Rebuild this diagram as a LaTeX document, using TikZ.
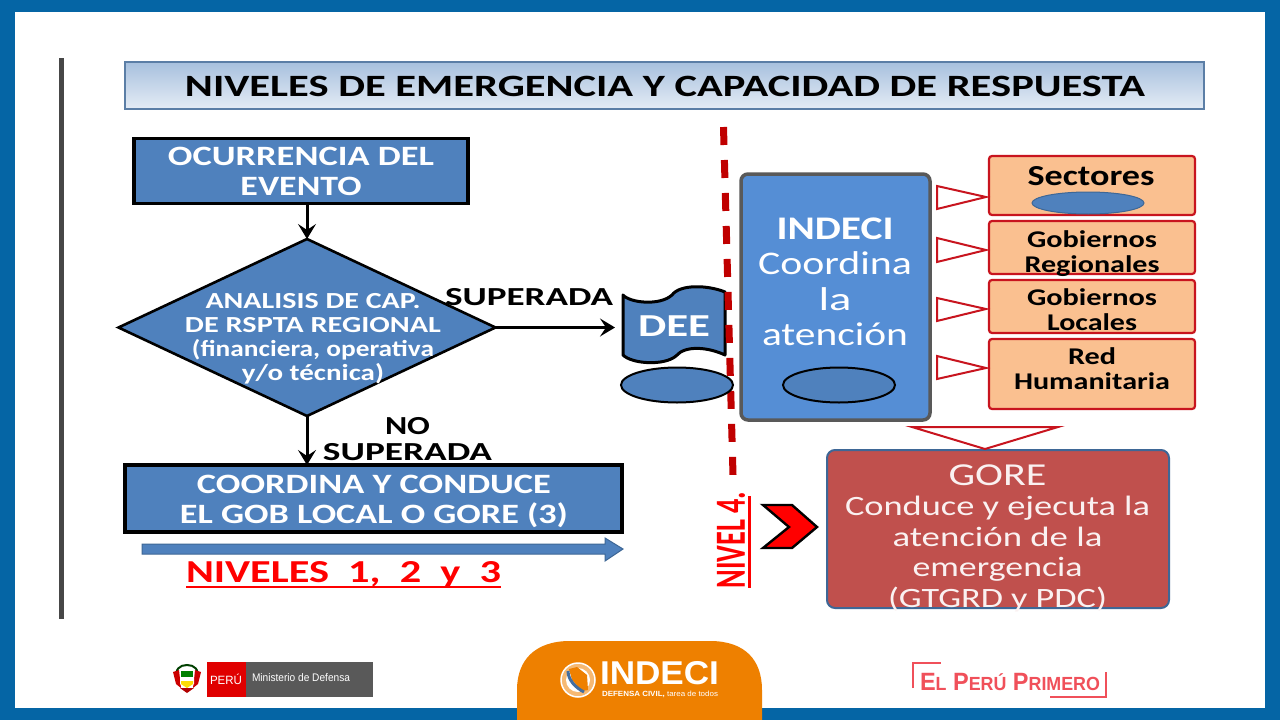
\documentclass[tikz,border=0pt]{standalone}
\usepackage{graphicx}
\usepackage{fontspec}
\setmainfont{Carlito}
\newfontfamily\lib{Liberation Sans}
\usetikzlibrary{shapes.geometric,arrows.meta}
\newcommand\fw[2]{\resizebox{#1pt}{\height}{#2}}
\definecolor{frameblue}{HTML}{0565A5}
\definecolor{boxblue}{HTML}{4F81BD}
\definecolor{indblue}{HTML}{558ED5}
\definecolor{peach}{HTML}{FAC090}
\definecolor{dred}{HTML}{C00000}
\definecolor{tred}{HTML}{C8141E}
\definecolor{brick}{HTML}{C0504D}
\definecolor{orangetab}{HTML}{EE8000}
\definecolor{logored}{HTML}{F0505A}
\definecolor{edgeblue}{HTML}{3E6796}
\tikzset{
 x=1pt,y=-1pt,
 bluebox/.style={draw=black,line width=3.5pt,fill=boxblue,anchor=north west,inner sep=0pt,outer sep=0pt},
 peachbox/.style={draw=tred,line width=2.2pt,fill=peach,rounded corners=3pt,inner sep=0pt,outer sep=0pt,anchor=north west},
 blueell/.style={ellipse,draw=black,line width=2pt,fill=boxblue,inner sep=0pt,outer sep=0pt},
 redtri/.style={draw=tred,line width=2pt,fill=white,line join=miter},
 flow/.style={draw=black,line width=3pt,-{Stealth[length=15pt,width=18pt,inset=6pt]}},
 wt/.style={text=white,font=\bfseries\fontsize{28}{30}\selectfont,align=center},
 peachtxt/.style={font=\bfseries\fontsize{24}{25}\selectfont,align=center,text=black},
}
\begin{document}
\begin{tikzpicture}
\useasboundingbox (0,0) rectangle (1280,720);
% frame
\fill[white] (0,0) rectangle (1280,720);
\fill[frameblue] (0,0) rectangle (1280,12);
\fill[frameblue] (0,0) rectangle (15,720);
\fill[frameblue] (1265,0) rectangle (1280,720);
\fill[frameblue] (0,708) rectangle (1280,720);
\fill[black!72] (59,58) rectangle (64,619);
% title
\node[draw=edgeblue!85,line width=2pt,top color=boxblue!50,bottom color=boxblue!15,anchor=north west,minimum width=1079pt,minimum height=47pt,inner sep=0pt,outer sep=0pt] (title) at (125,62) {};
\node[font=\bfseries\fontsize{31}{33}\selectfont] (titletxt) at (665,86) {\fw{960}{NIVELES DE EMERGENCIA Y CAPACIDAD DE RESPUESTA}};
% left flow
\node[bluebox,minimum width=334pt,minimum height=65pt] (ocu) at (134,138.5) {};
\node[wt] (ocutxt) at (301,171) {\fw{266}{OCURRENCIA DEL}\\\fw{121}{EVENTO}};
\node[diamond,aspect=2.13,draw=black,line width=2.6pt,fill=boxblue,minimum width=377pt,minimum height=177pt,inner sep=0pt,outer sep=0pt] (ana) at (307,327.5) {};
\node[align=center,text=white,font=\bfseries\fontsize{23}{24}\selectfont] (anatxt) at (313,339) {\fw{215}{ANALISIS DE CAP.}\\\fw{256}{DE RSPTA REGIONAL}\\\fw{242}{(financiera, operativa}\\\fw{142}{y/o técnica)}};
\node[bluebox,minimum width=497pt,minimum height=67pt] (coord) at (125,465) {};
\node[wt] (cotxt) at (374,501) {\fw{354}{COORDINA Y CONDUCE}\\\fw{388}{EL GOB LOCAL O GORE (3)}};
\draw[flow] (ocu.south -| ana.north) -- (ana.north);
\draw[flow] (ana.south) -- (ana.south |- coord.north);
\node[font=\bfseries\fontsize{26}{26}\selectfont,align=center] (nosup) at (407.5,439) {\fw{45}{NO}\\\fw{169}{SUPERADA}};
\node[font=\bfseries\fontsize{26}{26}\selectfont] (sup) at (529,297) {\fw{168}{SUPERADA}};
% DEE
\draw[black,line width=3pt,fill=boxblue,line join=round] (623,295) .. controls (630,303) and (660,306) .. (672,295) .. controls (680,284) and (708,285) .. (725,292) -- (725,355) .. controls (708,347) and (685,345) .. (676,356) .. controls (664,366) and (632,364) .. (623,355) -- cycle;
\node[minimum width=118pt,minimum height=40pt,inner sep=0pt,outer sep=0pt,text=white,font=\bfseries\fontsize{32}{34}\selectfont] (dee) at (674,327.5) {\raisebox{3pt}{\fw{72}{DEE}}};
\draw[flow] (ana.east) -- (dee.west);
% dashed line
\draw[dred,line width=7pt,dash pattern=on 18pt off 15pt] (723.5,127) -- (733,475);
\node[blueell,minimum width=112pt,minimum height=35pt] (eldee) at (677,385) {};
% INDECI
\node[draw=black!65,line width=3.5pt,fill=indblue,rounded corners=7pt,anchor=north west,minimum width=189pt,minimum height=246pt,inner sep=0pt,outer sep=0pt] (ind) at (741,174) {};
\node[align=center,text=white,font=\fontsize{33}{35.5}\selectfont] (indtxt) at (835,282) {\textbf{\fw{117}{INDECI}}\\\fw{154}{Coordina}\\\fw{33}{la}\\\fw{146}{atención}};
\node[blueell,minimum width=112pt,minimum height=35pt] (elind) at (839,385) {};
% right boxes
\node[peachbox,minimum width=206pt,minimum height=59pt] (sec) at (989,156) {};
\node[font=\bfseries\fontsize{29}{30}\selectfont] (sectxt) at (1091,176) {\fw{127}{Sectores}};
\node[ellipse,draw=edgeblue,line width=1pt,fill=boxblue,inner sep=0pt,minimum width=112pt,minimum height=22pt] (elsec) at (1088,203) {};
\node[peachbox,minimum width=206pt,minimum height=53pt] (reg) at (989,221) {};
\node[peachtxt] (regtxt) at (1092,254) {\fw{130}{Gobiernos}\\\fw{135}{Regionales}};
\node[peachbox,minimum width=206pt,minimum height=53pt] (loc) at (989,280) {};
\node[peachtxt] (loctxt) at (1092,310) {\fw{130}{Gobiernos}\\\fw{90}{Locales}};
\node[peachbox,minimum width=206pt,minimum height=70pt] (red) at (989,339) {};
\node[peachtxt] (redtxt) at (1092,369) {\fw{48}{Red}\\\fw{156}{Humanitaria}};
\draw[redtri] (937,186) -- (986,197) -- (937,209) -- cycle;
\draw[redtri] (937,238) -- (986,250) -- (937,262) -- cycle;
\draw[redtri] (937,298) -- (986,309) -- (937,321) -- cycle;
\draw[redtri] (937,356) -- (986,368) -- (937,379) -- cycle;
% GORE
\node[draw=edgeblue,line width=2pt,fill=brick,rounded corners=8pt,anchor=north west,minimum width=342pt,minimum height=158pt,inner sep=0pt,outer sep=0pt] (gore) at (827,450) {};
\draw[redtri] (912,427) -- (1058,427) -- (985,449) -- cycle;
\node[align=center,text=white!92!brick,font=\fontsize{28}{30.5}\selectfont] (goretxt) at (997.5,538) {{\fontsize{32}{32}\selectfont\fw{98}{GORE}}\\\fw{305}{Conduce y ejecuta la}\\\fw{210}{atención de la}\\\fw{170}{emergencia}\\\fw{219}{(GTGRD y PDC)}};
% chevron
\draw[black,line width=2.4pt,fill=red,line join=miter] (763,505) -- (792,505) -- (817,527) -- (792,548) -- (763,548) -- (789,527) -- cycle;
% nivel 4
\node[rotate=90,text=red,font=\bfseries\fontsize{43}{44}\selectfont,inner sep=0pt] (niv) at (731,540) {\fw{97}{NIVEL 4.}};
\draw[red,line width=3pt] (749.5,496) -- (749.5,588);
% niveles
\draw[draw=edgeblue,fill=boxblue,line width=1pt] (142,544) -- (605,544) -- (605,538) -- (623,549) -- (605,561) -- (605,554) -- (142,554) -- cycle;
\node[text=red,font=\bfseries\fontsize{32}{34}\selectfont] (nv) at (343.5,575) {\fw{315}{NIVELES\ \ 1,\ \ 2\ \ y\ \ 3}};
\draw[red,line width=2.6pt] (186,587) -- (501,587);
% footer
\fill[orangetab] (517,720) -- (517,690) .. controls (517,660) and (535,641) .. (570,641) -- (710,641) .. controls (745,641) and (762,660) .. (762,690) -- (762,720) -- cycle;
\node[circle,draw=white,line width=1.5pt,fill=orangetab!55!white,minimum size=34pt,inner sep=0pt] (seal) at (578,680) {};
\fill[white] (578,680) circle [radius=12pt];
\fill[orangetab] (569,669) -- (577,667) -- (587,675) -- (588,690) -- (582,691) -- (572,680) -- cycle;
\draw[boxblue!85!black,line width=3pt] (568,671) .. controls (568,680) and (576,688) .. (584,692);
\node[text=white,font=\bfseries\fontsize{33}{34}\selectfont\lib,inner sep=0pt] (ilogo) at (659.5,673) {\fw{119}{INDECI}};
\node[text=white,font=\fontsize{7.5}{8}\selectfont\lib,inner sep=0pt] (isub) at (660,694) {\fw{116}{\textbf{DEFENSA CIVIL,} tarea de todos}};
\fill[red!88!black] (207,662) rectangle (246,697);
\fill[black!65] (246,662) rectangle (373,697);
\node[text=white,font=\fontsize{12}{13}\selectfont\lib] (peru) at (226,679) {\fw{32}{PERÚ}};
\node[text=white,font=\fontsize{11}{12}\selectfont\lib] (mindef) at (301,678) {\fw{98}{Ministerio de Defensa}};
% shield
\draw[black!75!green,line width=2pt] (177,680) .. controls (174,669) and (180,665) .. (187,665) .. controls (194,665) and (200,669) .. (197,680);
\fill[red!80!black] (173,672) -- (179,670) -- (181,688) -- (176,684) -- cycle;
\fill[red!80!black] (201,672) -- (195,670) -- (193,688) -- (198,684) -- cycle;
\fill[white] (180,670) -- (194,670) -- (194,684) -- (187,689) -- (180,684) -- cycle;
\fill[green!50!black] (181,671) rectangle (193,677);
\fill[yellow!80!orange] (181,681) -- (193,681) -- (193,684) -- (187,688) -- (181,684) -- cycle;
\fill[red!70!black] (180,688) -- (194,688) -- (187,693) -- cycle;
% el peru primero
\node[text=logored,font=\bfseries\fontsize{25}{26}\selectfont\lib] (pp) at (1010,682) {\fw{180}{E{\fontsize{19}{26}\selectfont L} P{\fontsize{19}{26}\selectfont ERÚ} P{\fontsize{19}{26}\selectfont RIMERO}}};
\draw[logored,line width=1.2pt] (913,688) -- (913,663) -- (941,663);
\draw[logored,line width=1.2pt] (1106,672) -- (1106,697) -- (1050,697);
\end{tikzpicture}
\end{document}
